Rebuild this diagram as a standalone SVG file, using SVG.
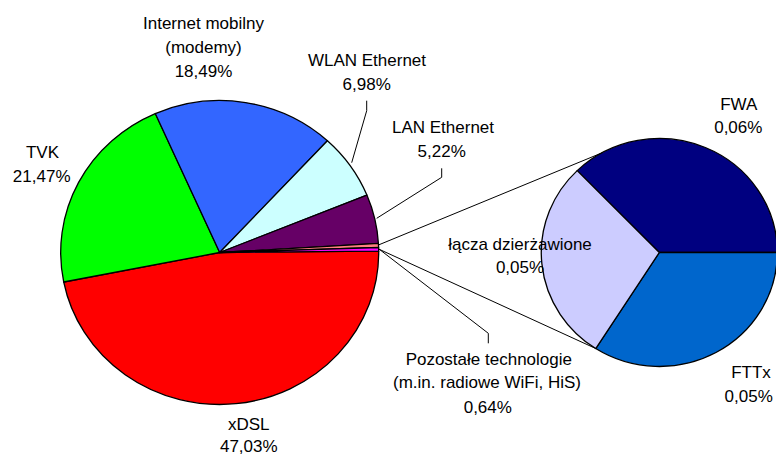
<svg xmlns="http://www.w3.org/2000/svg" width="776" height="454" viewBox="0 0 776 454">
  <style>
    .slice { stroke: #000; stroke-width: 1.3; stroke-linejoin: round; }
    .lbl { font-family: "Liberation Sans", Arial, sans-serif; font-size: 17px; fill: #000; text-anchor: middle; }
    .lead { fill: none; stroke: #000; stroke-width: 1; }
  </style>
  <rect width="776" height="454" fill="#fff"/>

  <!-- main pie: centre (219.7, 252.5), radii 159 x 152 -->
  <g id="xdsl">
    <path class="slice" fill="#FF0000" d="M219.7,252.5 L378.69,251.17 A159,152 0 0 1 63.72,282 Z"/>
    <text class="lbl" x="248.8" y="430">xDSL</text>
    <text class="lbl" x="248.8" y="451.5">47,03%</text>
  </g>
  <g id="tvk">
    <path class="slice" fill="#00FF00" d="M219.7,252.5 L63.72,282 A159,152 0 0 1 155.28,113.53 Z"/>
    <text class="lbl" x="42.5" y="158.3">TVK</text>
    <text class="lbl" x="41.7" y="181.7">21,47%</text>
  </g>
  <g id="internet-mobilny">
    <path class="slice" fill="#3366FF" d="M219.7,252.5 L155.28,113.53 A159,152 0 0 1 327.42,140.7 Z"/>
    <text class="lbl" x="203.5" y="29.3">Internet mobilny</text>
    <text class="lbl" x="203.5" y="53">(modemy)</text>
    <text class="lbl" x="203.5" y="76.7">18,49%</text>
  </g>
  <g id="wlan-ethernet">
    <path class="slice" fill="#CCFFFF" d="M219.7,252.5 L327.42,140.7 A159,152 0 0 1 366.9,195.05 Z"/>
    <text class="lbl" x="367" y="66">WLAN Ethernet</text>
    <text class="lbl" x="366.7" y="90">6,98%</text>
  </g>
  <g id="lan-ethernet">
    <path class="slice" fill="#660066" d="M219.7,252.5 L366.9,195.05 A159,152 0 0 1 378.42,243.44 Z"/>
    <text class="lbl" x="443" y="133.3">LAN Ethernet</text>
    <text class="lbl" x="441.7" y="156.7">5,22%</text>
  </g>
  <g id="pozostale">
    <path class="slice" fill="#FF8080" d="M219.7,252.5 L378.42,243.44 A159,152 0 0 1 378.61,247.5 Z"/>
    <text class="lbl" x="488.8" y="365">Pozostałe technologie</text>
    <text class="lbl" x="487" y="388.3">(m.in. radiowe WiFi, HiS)</text>
    <text class="lbl" x="487.8" y="412.7">0,64%</text>
  </g>
  <g id="inne">
    <path class="slice" fill="#FF00FF" d="M219.7,252.5 L378.61,247.5 A159,152 0 0 1 378.69,251.17 Z"/>
  </g>

  <!-- secondary pie: centre (659.3, 252.5), radii 118 x 114 -->
  <g id="fwa">
    <path class="slice" fill="#000080" d="M659.3,252.5 L577.18,170.63 A118,114 0 0 1 777.3,252.5 Z"/>
    <text class="lbl" x="738.7" y="110">FWA</text>
    <text class="lbl" x="738.3" y="132.5">0,06%</text>
  </g>
  <g id="fttx">
    <path class="slice" fill="#0066CC" d="M659.3,252.5 L777.3,252.5 A118,114 0 0 1 595.72,348.55 Z"/>
    <text class="lbl" x="751" y="377.7">FTTx</text>
    <text class="lbl" x="748.7" y="401.7">0,05%</text>
  </g>
  <g id="lacza-dzierzawione">
    <path class="slice" fill="#CCCCFF" d="M659.3,252.5 L595.72,348.55 A118,114 0 0 1 577.18,170.63 Z"/>
    <text class="lbl" x="520" y="250">łącza dzierżawione</text>
    <text class="lbl" x="520" y="273.3">0,05%</text>
  </g>

  <!-- leader lines and series lines -->
  <g id="connectors">
    <polyline class="lead" points="351.7,162.7 366.7,110.7 366.7,100.7"/>
    <polyline class="lead" points="376.7,218.3 441.7,177.3 441.7,168.3"/>
    <polyline class="lead" points="378.3,248.5 488.3,333.3 488.3,343.3"/>
    <line class="lead" x1="378.4" y1="245" x2="601.9" y2="152.9"/>
    <line class="lead" x1="378.6" y1="249" x2="595.7" y2="348.5"/>
  </g>
</svg>
